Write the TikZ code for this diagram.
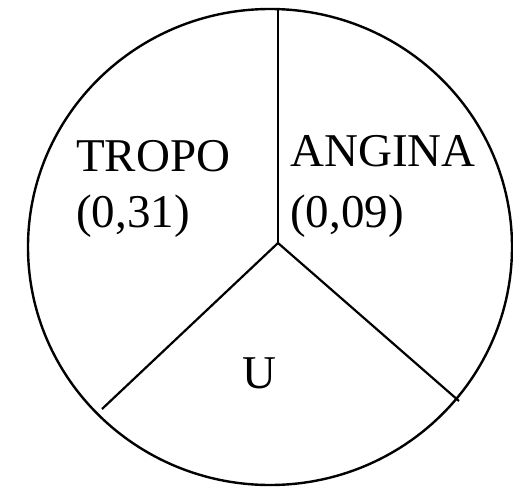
\documentclass[tikz,border=0pt]{standalone}
\usepackage{fontspec}
\setmainfont{Liberation Serif}
\usetikzlibrary{positioning}
\tikzset{
  rim/.style={draw, line width=2.4pt},
  spoke/.style={draw, line width=2.2pt},
  lbl/.style={anchor=base west, inner sep=0pt, font=\fontsize{47}{50}\selectfont}
}
\begin{document}
\begin{tikzpicture}[x=1pt, y=-1pt]
  \useasboundingbox (0,0) rectangle (513,487);
  \draw[rim] (270,247) ellipse [x radius=242, y radius=238];

  \coordinate (hub) at (278,243);
  \coordinate (top) at (278,9);
  \coordinate (lowL) at (102,409);
  \coordinate (lowR) at (459,401);

  \node[lbl] (tropo) at (76,171) {TROPO};
  \node[lbl] (tropoval) at (76,227) {(0,31)};
  \node[lbl] (angina) at (290,166) {ANGINA};
  \node[lbl] (anginaval) at (290,227) {(0,09)};
  \node[lbl] (u) at (242,388) {U};

  \draw[spoke, line width=2.8pt] (hub) -- (top);
  \draw[spoke] (hub) -- (lowL);
  \draw[spoke] (hub) -- (lowR);
\end{tikzpicture}
\end{document}
